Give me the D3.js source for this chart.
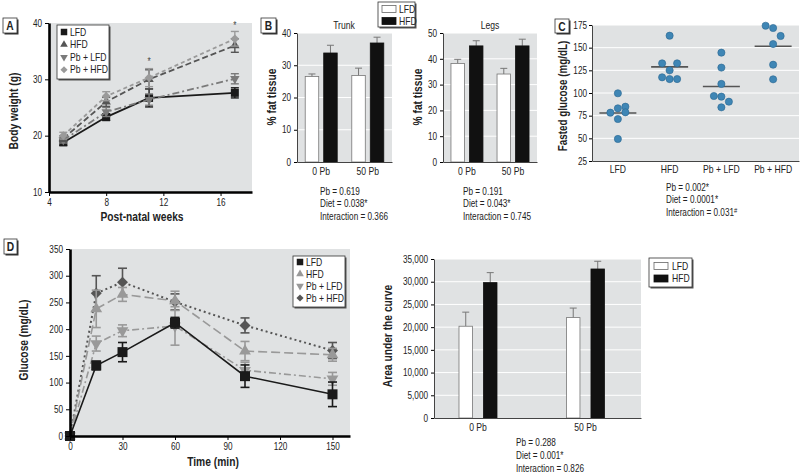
<!DOCTYPE html>
<html><head><meta charset="utf-8">
<script src="https://cdnjs.cloudflare.com/ajax/libs/d3/7.8.5/d3.min.js"></script>
<style>body{margin:0;background:#fff}svg{display:block}</style>
</head><body>
<script>
// ---------- DATA ----------
const groups4 = ["LFD", "HFD", "Pb + LFD", "Pb + HFD"];
const diets = ["LFD", "HFD"];
const pbLevels = ["0 Pb", "50 Pb"];

// Panel A: body weight
const weeks = [5, 8, 11, 17];
const bwLFD = [18.8, 23.3, 26.7, 27.6];
const bwHFD = [19.5, 26.0, 30.0, 36.0];
const bwPbLFD = [19.2, 24.2, 26.4, 30.1];
const bwPbHFD = [20.0, 27.0, 30.3, 37.2];
const bwErrLFD = [0.5, 0.6, 1.6, 0.9];
const bwErrHFD = [0.5, 0.8, 1.7, 1.2];
const bwErrPbLFD = [0.5, 0.8, 1.0, 0.9];
const bwErrPbHFD = [0.6, 0.8, 1.6, 1.3];
const starWeeks = [11, 17];
const starBW = [33.2, 39.7];
const weekTicks = [4, 8, 12, 16];
const bwTicks = [10, 20, 30, 40];

// Panel B: % fat tissue
const trunkLFD = [26.5, 26.8];
const trunkHFD = [33.8, 36.9];
const trunkErrLFD = [0.8, 2.3];
const trunkErrHFD = [2.4, 1.8];
const legsLFD = [38.2, 34.1];
const legsHFD = [45.0, 45.0];
const legsErrLFD = [1.6, 2.2];
const legsErrHFD = [2.0, 2.6];
const trunkTicks = [0, 10, 20, 30, 40];
const legsTicks = [0, 10, 20, 30, 40, 50];
const trunkStats = ["Pb = 0.619", "Diet = 0.038*", "Interaction = 0.366"];
const legsStats = ["Pb = 0.191", "Diet = 0.043*", "Interaction = 0.745"];

// Panel C: fasted glucose (individual animals, with horizontal offset slot)
const cLFD = [99.7, 78.3, 83.1, 84.9, 78.7, 71.3, 49.3];
const cLFDslot = [0, -1, 0, 1, 1, 0, 0];
const cHFD = [163.2, 132.7, 132.7, 125.0, 117.3, 115.4, 115.4];
const cHFDslot = [0, -1, 1, 0, -1, 0, 1];
const cPbLFD = [144.5, 128.0, 110.0, 96.7, 96.0, 90.4, 84.2];
const cPbLFDslot = [0, 0, 0, -1, 0, 1, 0];
const cPbHFD = [174.2, 171.7, 162.9, 154.0, 131.2, 115.1];
const cPbHFDslot = [-1, 0, 1, 0, 0, 0];
const cTicks = [25, 50, 75, 100, 125, 150, 175];
const cStats = ["Pb = 0.002*", "Diet = 0.0001*", "Interaction = 0.031"];

// Panel D: glucose tolerance
const times = [0, 15, 30, 60, 100, 150];
const gLFD = [0, 132, 157, 212, 112, 78];
const gHFD = [0, 238, 265, 253, 159, 152];
const gPbLFD = [0, 173, 197, 206, 123, 107];
const gPbHFD = [0, 267, 288, 251, 207, 160];
const gErrLFD = [0, 8, 18, 10, 21, 23];
const gErrHFD = [0, 35, 13, 18, 18, 12];
const gErrPbLFD = [0, 14, 11, 36, 15, 12];
const gErrPbHFD = [0, 33, 26, 15, 14, 15];
const timeTicks = [0, 30, 60, 90, 120, 150];
const gTicks = [0, 50, 100, 150, 200, 250, 300, 350];

// Panel D right: AUC
const aucLFD = [20200, 22100];
const aucHFD = [29800, 32800];
const aucErrLFD = [3100, 2100];
const aucErrHFD = [2200, 1700];
const aucTicks = [0, 5000, 10000, 15000, 20000, 25000, 30000, 35000];
const aucStats = ["Pb = 0.288", "Diet = 0.001*", "Interaction = 0.826"];

// ---------- STYLE ----------
const FONT = "'Liberation Sans','Arial',sans-serif";
const NARROW = 0.82;
const BG = "#e0e2e3";
const TXT = "#222";
const svg = d3.select("body").append("svg").attr("width", 800).attr("height", 474)
  .style("font-family", FONT);
svg.append("rect").attr("width", 800).attr("height", 474).attr("fill", "#fff");

function styleAxis(g, thick) {
  g.select(".domain").attr("stroke", "#000").attr("stroke-width", thick ? 2.6 : 1);
  g.selectAll(".tick line").attr("stroke", "#000");
  g.selectAll(".tick text").attr("font-family", FONT).attr("font-size", 10).attr("fill", TXT);
}
function panelLabel(x, y, w, h, t) {
  svg.append("rect").attr("x", x + 1.5).attr("y", y + 1.5).attr("width", w).attr("height", h).attr("fill", "#333");
  svg.append("rect").attr("x", x).attr("y", y).attr("width", w).attr("height", h).attr("fill", "#fff").attr("stroke", "#333").attr("stroke-width", 0.8);
  svg.append("text").attr("x", x + w / 2).attr("y", y + h / 2 + 4.5).attr("text-anchor", "middle")
    .attr("font-weight", "bold").attr("font-size", 12.5).attr("fill", TXT).text(t);
}
function vTitle(x, y, t, size) {
  svg.append("text").attr("transform", `translate(${x},${y}) rotate(-90)`).attr("text-anchor", "middle")
    .attr("dy", "0.35em").attr("font-weight", "bold").attr("font-size", size || 12.5).attr("fill", TXT).text(t);
}
function statLines(x, y0, lines, dy, supLast) {
  lines.forEach((s, i) => {
    const t = svg.append("text").attr("x", x).attr("y", y0 + i * dy).attr("font-size", 10).attr("fill", TXT).text(s);
    if (supLast && i === lines.length - 1) t.append("tspan").attr("font-size", 7).attr("dy", -3).text("#");
  });
}
function boxLegend(x, y, w, h) {
  svg.append("rect").attr("x", x + 1.5).attr("y", y + 1.5).attr("width", w).attr("height", h).attr("fill", "#555");
  svg.append("rect").attr("x", x).attr("y", y).attr("width", w).attr("height", h).attr("fill", "#fff").attr("stroke", "#333").attr("stroke-width", 0.8);
}
const sqSym = d3.symbol().type(d3.symbolSquare);
const triSym = d3.symbol().type(d3.symbolTriangle);
function marker(g, kind, x, y, size, color) {
  let p;
  if (kind === "square") p = g.append("path").attr("d", sqSym.size(size * size)()).attr("transform", `translate(${x},${y})`);
  else if (kind === "tri") p = g.append("path").attr("d", triSym.size(size * size * 0.6)()).attr("transform", `translate(${x},${y})`);
  else if (kind === "dtri") p = g.append("path").attr("d", triSym.size(size * size * 0.6)()).attr("transform", `translate(${x},${y}) rotate(180)`);
  else p = g.append("path").attr("d", sqSym.size(size * size * 0.6)()).attr("transform", `translate(${x},${y}) rotate(45)`);
  p.attr("fill", color);
}

// ---------- PANEL A ----------
(function () {
  const x = d3.scaleLinear().domain([4, 18.2]).range([49, 252]);
  const y = d3.scaleLinear().domain([10, 40]).range([192, 23]);
  svg.append("rect").attr("x", 49).attr("y", 23).attr("width", 203).attr("height", 169).attr("fill", BG);
  const series = [
    { v: bwLFD, e: bwErrLFD, c: "#1a1a1a", dash: null, m: "square" },
    { v: bwPbLFD, e: bwErrPbLFD, c: "#7a7a7a", dash: "7,3,2,3", m: "dtri" },
    { v: bwHFD, e: bwErrHFD, c: "#555", dash: "6,3", m: "tri" },
    { v: bwPbHFD, e: bwErrPbHFD, c: "#9a9a9a", dash: "4,3", m: "diamond" }
  ];
  const g = svg.append("g");
  const line = d3.line().x((d, i) => x(weeks[i])).y(d => y(d));
  series.forEach(s => {
    g.append("path").attr("d", line(s.v)).attr("fill", "none").attr("stroke", s.c)
      .attr("stroke-width", 1.8).attr("stroke-dasharray", s.dash);
    s.v.forEach((v, i) => {
      const cx = x(weeks[i]);
      g.append("line").attr("x1", cx).attr("x2", cx).attr("y1", y(v - s.e[i])).attr("y2", y(v + s.e[i])).attr("stroke", s.c).attr("stroke-width", 1.4);
      [v - s.e[i], v + s.e[i]].forEach(b => g.append("line").attr("x1", cx - 4).attr("x2", cx + 4).attr("y1", y(b)).attr("y2", y(b)).attr("stroke", s.c).attr("stroke-width", 1.4));
      marker(g, s.m, cx, y(v), 8, s.c);
    });
  });
  starWeeks.forEach((w, i) => svg.append("text").attr("x", x(w)).attr("y", y(starBW[i]) + 4).attr("text-anchor", "middle").attr("font-size", 10).attr("fill", "#444").text("*"));
  const ax = svg.append("g").attr("transform", "translate(0,192)").call(d3.axisBottom(x).tickValues(weekTicks).tickSize(4).tickSizeOuter(0).tickPadding(3));
  styleAxis(ax, true);
  const ay = svg.append("g").attr("transform", "translate(49,0)").call(d3.axisLeft(y).tickValues(bwTicks).tickSize(4).tickSizeOuter(0).tickPadding(3));
  styleAxis(ay, true);
  vTitle(14, 111, "Body weight (g)");
  svg.append("text").attr("x", 142).attr("y", 221).attr("text-anchor", "middle").attr("font-weight", "bold").attr("font-size", 12.5).attr("fill", TXT).text("Post-natal weeks");
  boxLegend(57, 25, 52, 54);
  const kinds = ["square", "tri", "dtri", "diamond"];
  const cols = ["#1a1a1a", "#555", "#7a7a7a", "#9a9a9a"];
  groups4.forEach((n, i) => {
    const yy = 32 + i * 12.6;
    marker(svg, kinds[i], 64, yy, 6.5, cols[i]);
    svg.append("text").attr("x", 70).attr("y", yy + 3.6).attr("font-size", 10.5).attr("fill", TXT).text(n);
  });
  panelLabel(3, 18, 14, 15, "A");
})();

// ---------- BAR helper ----------
function barPanel(opts) {
  const x0 = d3.scaleBand().domain(pbLevels).range(opts.xr).paddingInner(opts.pi).paddingOuter(opts.po).align(opts.al);
  const x1 = d3.scaleBand().domain(diets).range([-opts.half, opts.half]).paddingInner(opts.inner);
  const y = d3.scaleLinear().domain(opts.yd).range(opts.yr);
  svg.append("rect").attr("x", opts.xr[0]).attr("y", opts.yr[1]).attr("width", opts.xr[1] - opts.xr[0]).attr("height", opts.yr[0] - opts.yr[1]).attr("fill", BG);
  opts.ticks.slice(1).forEach(t => svg.append("line").attr("x1", opts.xr[0]).attr("x2", opts.xr[1]).attr("y1", y(t)).attr("y2", y(t)).attr("stroke", "#fff").attr("stroke-width", 1));
  const vals = [opts.lfd, opts.hfd], errs = [opts.elfd, opts.ehfd];
  diets.forEach((d, di) => {
    pbLevels.forEach((p, pi) => {
      const cx = x0(p) + x0.bandwidth() / 2;
      const bx = cx + x1(d);
      const v = vals[di][pi], e = errs[di][pi];
      const mid = bx + x1.bandwidth() / 2;
      svg.append("line").attr("x1", mid).attr("x2", mid).attr("y1", y(v)).attr("y2", y(v + e)).attr("stroke", "#777").attr("stroke-width", 1);
      svg.append("line").attr("x1", mid - 3.5).attr("x2", mid + 3.5).attr("y1", y(v + e)).attr("y2", y(v + e)).attr("stroke", "#777").attr("stroke-width", 1);
      svg.append("rect").attr("x", bx).attr("y", y(v)).attr("width", x1.bandwidth()).attr("height", y(opts.yd[0]) - y(v))
        .attr("fill", di === 0 ? "#fff" : "#111").attr("stroke", di === 0 ? "#777" : "#111").attr("stroke-width", 0.8);
    });
  });
  const ax = svg.append("g").attr("transform", `translate(0,${opts.yr[0]})`).call(d3.axisBottom(x0).tickSize(0).tickPadding(6));
  styleAxis(ax, false);
  ax.selectAll(".tick text").attr("font-size", 10.5);
  ax.select(".domain").attr("stroke", "#444");
  const ay = svg.append("g").attr("transform", `translate(${opts.xr[0]},0)`).call(d3.axisLeft(y).tickValues(opts.ticks).tickSize(3).tickSizeOuter(0).tickPadding(3).tickFormat(opts.fmt || d3.format("d")));
  styleAxis(ay, false);
  ay.select(".domain").attr("stroke", "#444");
  return { x0, y };
}

// ---------- PANEL B ----------
barPanel({ xr: [297, 392], pi: 0.04, po: 0.04, al: 0.5, half: 16, inner: 0.27, yd: [0, 40], yr: [162, 33], ticks: trunkTicks,
  lfd: trunkLFD, hfd: trunkHFD, elfd: trunkErrLFD, ehfd: trunkErrHFD });
barPanel({ xr: [443, 537], pi: 0.04, po: 0.04, al: 0.5, half: 16, inner: 0.27, yd: [0, 50], yr: [162, 33], ticks: legsTicks,
  lfd: legsLFD, hfd: legsHFD, elfd: legsErrLFD, ehfd: legsErrHFD });
svg.append("text").attr("x", 344).attr("y", 29).attr("text-anchor", "middle").attr("font-size", 10.5).attr("fill", TXT).text("Trunk");
svg.append("text").attr("x", 490).attr("y", 29).attr("text-anchor", "middle").attr("font-size", 10.5).attr("fill", TXT).text("Legs");
vTitle(272, 97, "% fat tissue");
vTitle(418, 97, "% fat tissue");
statLines(320, 195, trunkStats, 12.3);
statLines(463, 195, legsStats, 12.3);
boxLegend(378, 2, 37, 25);
diets.forEach((d, i) => {
  const yy = 9 + i * 12;
  svg.append("rect").attr("x", 382).attr("y", yy - 3.5).attr("width", 14).attr("height", 7).attr("fill", i === 0 ? "#fff" : "#111").attr("stroke", i === 0 ? "#666" : "#111").attr("stroke-width", 0.8);
  svg.append("text").attr("x", 399).attr("y", yy + 3.6).attr("font-size", 10.5).attr("fill", TXT).text(d);
});
panelLabel(261, 18, 15, 15, "B");

// ---------- PANEL C ----------
(function () {
  const x = d3.scaleBand().domain(groups4).range([592, 799]);
  const y = d3.scaleLinear().domain([25, 175]).range([161, 25]);
  svg.append("rect").attr("x", 592).attr("y", 25).attr("width", 207).attr("height", 136).attr("fill", BG);
  cTicks.slice(1).forEach(t => svg.append("line").attr("x1", 592).attr("x2", 799).attr("y1", y(t)).attr("y2", y(t)).attr("stroke", "#fff").attr("stroke-width", 1));
  const data = [[cLFD, cLFDslot], [cHFD, cHFDslot], [cPbLFD, cPbLFDslot], [cPbHFD, cPbHFDslot]];
  data.forEach(([vals, slots], gi) => {
    const cx = x(groups4[gi]) + x.bandwidth() / 2;
    const mean = d3.mean(vals);
    svg.append("line").attr("x1", cx - 18.5).attr("x2", cx + 18.5).attr("y1", y(mean)).attr("y2", y(mean)).attr("stroke", "#555").attr("stroke-width", 1.6);
    vals.forEach((v, i) => svg.append("circle").attr("cx", cx + slots[i] * 7.5).attr("cy", y(v)).attr("r", 3.6)
      .attr("fill", "#3f86b5").attr("stroke", "#2a6690").attr("stroke-width", 0.6));
  });
  const ax = svg.append("g").attr("transform", "translate(0,161)").call(d3.axisBottom(x).tickSize(0).tickPadding(5));
  styleAxis(ax, false);
  ax.selectAll(".tick text").attr("font-size", 10.5);
  ax.select(".domain").attr("stroke", "#444");
  const ay = svg.append("g").attr("transform", "translate(592,0)").call(d3.axisLeft(y).tickValues(cTicks).tickSize(3).tickSizeOuter(0).tickPadding(2));
  styleAxis(ay, false);
  ay.select(".domain").attr("stroke", "#444");
  vTitle(563, 96, "Fasted glucose (mg/dL)", 12);
  statLines(666, 191, cStats, 12.3, true);
  panelLabel(555, 19, 14, 14, "C");
})();

// ---------- PANEL D ----------
(function () {
  const x = d3.scaleLinear().domain([0, 160]).range([70, 350]);
  const y = d3.scaleLinear().domain([0, 350]).range([436, 249]);
  svg.append("rect").attr("x", 70).attr("y", 249).attr("width", 280).attr("height", 187).attr("fill", BG);
  const series = [
    { v: gPbHFD, e: gErrPbHFD, c: "#555", dash: "2,3", m: "diamond", s: 10 },
    { v: gHFD, e: gErrHFD, c: "#999", dash: "9,4", m: "tri", s: 10 },
    { v: gPbLFD, e: gErrPbLFD, c: "#999", dash: "7,3,2,3", m: "dtri", s: 10 },
    { v: gLFD, e: gErrLFD, c: "#1a1a1a", dash: null, m: "square", s: 10 }
  ];
  const line = d3.line().x((d, i) => x(times[i])).y(d => y(d));
  series.forEach(s => {
    svg.append("path").attr("d", line(s.v)).attr("fill", "none").attr("stroke", s.c).attr("stroke-width", s.dash === "2,3" ? 2 : 1.6).attr("stroke-dasharray", s.dash);
  });
  series.forEach(s => {
    s.v.forEach((v, i) => {
      const cx = x(times[i]);
      if (s.e[i] > 0) {
        svg.append("line").attr("x1", cx).attr("x2", cx).attr("y1", y(v - s.e[i])).attr("y2", y(v + s.e[i])).attr("stroke", s.c).attr("stroke-width", 1.6);
        [v - s.e[i], v + s.e[i]].forEach(b => svg.append("line").attr("x1", cx - 4.5).attr("x2", cx + 4.5).attr("y1", y(b)).attr("y2", y(b)).attr("stroke", s.c).attr("stroke-width", 1.6));
      }
      marker(svg, s.m, cx, y(v), s.s, s.c);
    });
  });
  const ax = svg.append("g").attr("transform", "translate(0,436)").call(d3.axisBottom(x).tickValues(timeTicks).tickSize(4).tickSizeOuter(0).tickPadding(3));
  styleAxis(ax, true);
  const ay = svg.append("g").attr("transform", "translate(70,0)").call(d3.axisLeft(y).tickValues(gTicks).tickSize(4).tickSizeOuter(0).tickPadding(3));
  styleAxis(ay, true);
  vTitle(24, 340, "Glucose (mg/dL)");
  svg.append("text").attr("x", 213).attr("y", 466).attr("text-anchor", "middle").attr("font-weight", "bold").attr("font-size", 12.5).attr("fill", TXT).text("Time (min)");
  boxLegend(293, 256, 52, 51);
  const kinds = ["square", "tri", "dtri", "diamond"];
  const cols = ["#1a1a1a", "#999", "#999", "#555"];
  groups4.forEach((n, i) => {
    const yy = 262 + i * 12;
    marker(svg, kinds[i], 300, yy, 6.5, cols[i]);
    svg.append("text").attr("x", 306).attr("y", yy + 3.6).attr("font-size", 10.5).attr("fill", TXT).text(n);
  });
  panelLabel(4, 239, 13, 15, "D");
})();

// ---------- PANEL D right: AUC ----------
barPanel({ xr: [434, 641], pi: 0.5, po: 0.213, al: 0.374, half: 19, inner: 0.449, yd: [0, 35000], yr: [418, 259], ticks: aucTicks,
  lfd: aucLFD, hfd: aucHFD, elfd: aucErrLFD, ehfd: aucErrHFD, fmt: d3.format(",") });
vTitle(388, 336, "Area under the curve");
statLines(516, 446, aucStats, 13);
boxLegend(649, 258, 43, 29);
diets.forEach((d, i) => {
  const yy = 266 + i * 12.5;
  svg.append("rect").attr("x", 654).attr("y", yy - 3.5).attr("width", 14).attr("height", 7).attr("fill", i === 0 ? "#fff" : "#111").attr("stroke", i === 0 ? "#666" : "#111").attr("stroke-width", 0.8);
  svg.append("text").attr("x", 672).attr("y", yy + 3.6).attr("font-size", 10.5).attr("fill", TXT).text(d);
});

// ---------- condense all text horizontally (Arial Narrow look) ----------
svg.selectAll("text").each(function () {
  const t = d3.select(this);
  const x = +t.attr("x") || 0, y = +t.attr("y") || 0;
  const tr = t.attr("transform") || "";
  t.attr("x", null).attr("y", null).attr("transform", `${tr} translate(${x},${y}) scale(${NARROW},1)`);
});
</script>
</body></html>
